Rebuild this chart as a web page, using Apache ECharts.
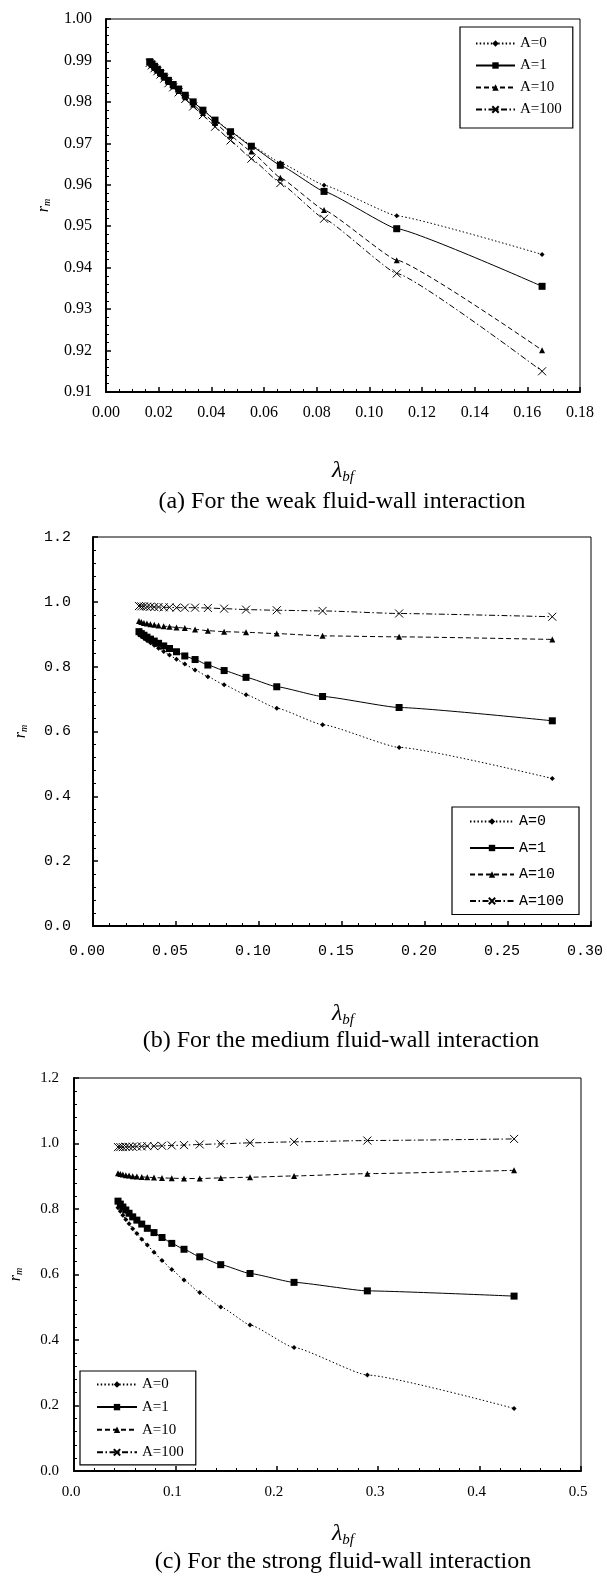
<!DOCTYPE html>
<html><head><meta charset="utf-8">
<script src="https://cdn.jsdelivr.net/npm/echarts@6/dist/echarts.min.js"></script>
<style>html,body{margin:0;padding:0;background:#fff}#c{width:607px;height:1579px}</style>
</head><body><div id="c"></div>
<script>
// ---- data ----
const seriesNames = ['A=0', 'A=1', 'A=10', 'A=100'];
// (a) weak
const xA = [0.0166, 0.0174, 0.0184, 0.0195, 0.0207, 0.0221, 0.0237, 0.0255, 0.0276, 0.0301, 0.0331, 0.0368, 0.0414, 0.0473, 0.0552, 0.0662, 0.0828, 0.1104, 0.1656];
const a0   = [0.9898, 0.9893, 0.9887, 0.9880, 0.9872, 0.9863, 0.9853, 0.9843, 0.9832, 0.9817, 0.9801, 0.9781, 0.9757, 0.9729, 0.9695, 0.9653, 0.9599, 0.9525, 0.9432];
const a1   = [0.9897, 0.9892, 0.9886, 0.9879, 0.9871, 0.9862, 0.9852, 0.9842, 0.9831, 0.9816, 0.9800, 0.9780, 0.9756, 0.9728, 0.9693, 0.9647, 0.9584, 0.9494, 0.9355];
const a10  = [0.9895, 0.9889, 0.9882, 0.9875, 0.9867, 0.9858, 0.9848, 0.9838, 0.9826, 0.9811, 0.9794, 0.9773, 0.9749, 0.9718, 0.9680, 0.9617, 0.9539, 0.9418, 0.9201];
const a100 = [0.9894, 0.9888, 0.9881, 0.9874, 0.9866, 0.9856, 0.9845, 0.9835, 0.9823, 0.9807, 0.9789, 0.9768, 0.9740, 0.9707, 0.9663, 0.9604, 0.9518, 0.9386, 0.9150];
// (b) medium
const xB = [0.0277, 0.0291, 0.0307, 0.0325, 0.0346, 0.0369, 0.0395, 0.0426, 0.0461, 0.0503, 0.0553, 0.0615, 0.0692, 0.0790, 0.0922, 0.1107, 0.1383, 0.1844, 0.2767];
const b0   = [0.899, 0.894, 0.888, 0.881, 0.874, 0.866, 0.857, 0.847, 0.836, 0.823, 0.808, 0.790, 0.769, 0.744, 0.713, 0.672, 0.621, 0.551, 0.455];
const b1   = [0.908, 0.902, 0.897, 0.891, 0.885, 0.879, 0.872, 0.864, 0.856, 0.846, 0.833, 0.822, 0.805, 0.788, 0.767, 0.738, 0.708, 0.674, 0.633];
const b10  = [0.941, 0.938, 0.935, 0.933, 0.931, 0.929, 0.927, 0.925, 0.923, 0.921, 0.919, 0.915, 0.911, 0.908, 0.906, 0.902, 0.895, 0.892, 0.884];
const b100 = [0.987, 0.986, 0.986, 0.985, 0.985, 0.984, 0.984, 0.983, 0.983, 0.982, 0.982, 0.982, 0.981, 0.979, 0.976, 0.974, 0.972, 0.964, 0.954];
// (c) strong
const xC = [0.0434, 0.0457, 0.0482, 0.0511, 0.0543, 0.0579, 0.0620, 0.0668, 0.0723, 0.0789, 0.0868, 0.0964, 0.1085, 0.1240, 0.1447, 0.1736, 0.2170, 0.2893, 0.4340];
const c0   = [0.804, 0.793, 0.781, 0.768, 0.755, 0.740, 0.725, 0.708, 0.690, 0.668, 0.643, 0.615, 0.583, 0.545, 0.501, 0.446, 0.377, 0.293, 0.191];
const c1   = [0.824, 0.815, 0.806, 0.797, 0.787, 0.776, 0.766, 0.754, 0.741, 0.728, 0.713, 0.695, 0.677, 0.654, 0.630, 0.603, 0.576, 0.550, 0.534];
const c10  = [0.909, 0.907, 0.905, 0.903, 0.902, 0.900, 0.899, 0.898, 0.897, 0.896, 0.895, 0.894, 0.893, 0.893, 0.895, 0.897, 0.901, 0.908, 0.918];
const c100 = [0.989, 0.989, 0.989, 0.990, 0.990, 0.990, 0.991, 0.991, 0.992, 0.992, 0.993, 0.994, 0.995, 0.997, 0.999, 1.002, 1.005, 1.009, 1.014];
const captions = ['(a) For the weak fluid-wall interaction', '(b) For the medium fluid-wall interaction', '(c) For the strong fluid-wall interaction'];

// ---- build ----
const SERIF = 'Liberation Serif';
const MONO = 'Liberation Mono';
const crossPath = 'path://M0,0L10,10M0,10L10,0';
const styles = [
  {symbol: 'diamond', size: 5, line: [1.5, 2.2], fill: '#000'},
  {symbol: 'rect', size: 7, line: 'solid', fill: '#000'},
  {symbol: 'triangle', size: 6, line: [5, 3], fill: '#000'},
  {symbol: crossPath, size: 8, line: [6, 2.5, 1.5, 2.5], fill: 'none'}
];
const panels = [
  {x: xA, ys: [a0, a1, a10, a100], font: SERIF, fs: 16, dec: [2, 2], smooth: 0.1, lpad: [0, 0, 0, 0],
   grid: {left: 106, top: 19, width: 474, height: 373},
   xa: {min: 0, max: 0.18, interval: 0.02, minor: 4}, ya: {min: 0.91, max: 1.0, interval: 0.01, minor: 5},
   xMargin: 13, yMargin: 14, yNameGap: 54,
   legend: {left: 460, top: 27, padding: [9, 11, 11, 15], itemGap: 7, itemWidth: 39, fs: 15, font: SERIF},
   lam: {x: 338, y: 467}, cap: {x: 337, y: 498}},
  {x: xB, ys: [b0, b1, b10, b100], font: MONO, fs: 15, dec: [2, 1], smooth: 0.15, lpad: [0, 12, 0, 0],
   grid: {left: 93, top: 537, width: 498, height: 389},
   xa: {min: 0, max: 0.30, interval: 0.05, minor: 5}, ya: {min: 0, max: 1.2, interval: 0.2, minor: 5},
   xMargin: 18, yMargin: 22, yNameGap: 64,
   legend: {left: 452, top: 807, padding: [7, 15, 6, 17], itemGap: 11.5, itemWidth: 44, fs: 15, font: MONO},
   lam: {x: 338, y: 1010}, cap: {x: 336, y: 1037}},
  {x: xC, ys: [c0, c1, c10, c100], font: SERIF, fs: 15, dec: [1, 1], smooth: 0.15, lpad: [0, 6, 0, 0],
   grid: {left: 73, top: 1078, width: 508, height: 393},
   xa: {min: 0, max: 0.5, interval: 0.1, minor: 5}, ya: {min: 0, max: 1.2, interval: 0.2, minor: 5},
   xMargin: 14, yMargin: 15, yNameGap: 50,
   legend: {left: 80, top: 1371, padding: [6, 12, 5, 16], itemGap: 7.6, itemWidth: 40, fs: 15, font: SERIF},
   lam: {x: 338, y: 1530}, cap: {x: 338, y: 1558}}
];

const option = {backgroundColor: '#fff', animation: false, grid: [], xAxis: [], yAxis: [], series: [], legend: [], title: []};
panels.forEach((p, i) => {
  option.grid.push(Object.assign({show: true, borderColor: '#000', borderWidth: 1, backgroundColor: 'transparent'}, p.grid));
  const axisCommon = {
    axisLine: {show: true, onZero: false, lineStyle: {color: '#000', width: 2}},
    axisTick: {show: true, inside: true, length: 5, lineStyle: {color: '#000', width: 1.5}},
    minorTick: {show: true, length: 3, lineStyle: {color: '#000', width: 1}},
    splitLine: {show: false}, minorSplitLine: {show: false}
  };
  option.xAxis.push(Object.assign({}, axisCommon, {
    type: 'value', gridIndex: i, min: p.xa.min, max: p.xa.max, interval: p.xa.interval,
    minorTick: Object.assign({}, axisCommon.minorTick, {splitNumber: p.xa.minor}),
    axisLabel: {margin: p.xMargin, color: '#000', fontFamily: p.font, fontSize: p.fs, padding: p.lpad,
      formatter: v => v.toFixed(p.dec[0])}
  }));
  option.yAxis.push(Object.assign({}, axisCommon, {
    type: 'value', gridIndex: i, min: p.ya.min, max: p.ya.max, interval: p.ya.interval,
    minorTick: Object.assign({}, axisCommon.minorTick, {splitNumber: p.ya.minor}),
    axisLabel: {margin: p.yMargin, color: '#000', fontFamily: p.font, fontSize: p.fs,
      formatter: v => v.toFixed(p.dec[1])},
    name: '{r|r}{m|m}', nameLocation: 'middle', nameRotate: 90, nameGap: p.yNameGap,
    nameTextStyle: {fontWeight: 'normal', rich: {
      r: {fontFamily: SERIF, fontStyle: 'italic', fontWeight: 'normal', fontSize: 16, color: '#000'},
      m: {fontFamily: SERIF, fontStyle: 'italic', fontWeight: 'normal', fontSize: 10, color: '#000', verticalAlign: 'bottom', lineHeight: 10}
    }}
  }));
  const names = [];
  p.ys.forEach((ys, j) => {
    const st = styles[j];
    const nm = seriesNames[j] + ' ';
    names.push(nm);
    option.series.push({
      name: nm, type: 'line', xAxisIndex: i, yAxisIndex: i,
      data: p.x.map((xv, k) => [xv, ys[k]]),
      smooth: p.smooth, smoothMonotone: 'x',
      symbol: st.symbol, symbolSize: st.size, showSymbol: true,
      lineStyle: {color: '#000', width: 1, type: st.line},
      itemStyle: {color: st.fill, borderColor: '#000', borderWidth: st.fill === 'none' ? 1 : 0},
      emphasis: {disabled: true}, z: 3 + j
    });
  });
  const L = p.legend;
  option.legend.push({
    data: names.map(n => ({name: n})),
    orient: 'vertical', left: L.left, top: L.top, padding: L.padding, itemGap: L.itemGap,
    itemWidth: L.itemWidth, itemHeight: 8, borderColor: '#000', borderWidth: 1.2, backgroundColor: '#fff',
    selectedMode: false, formatter: n => n.trim(),
    textStyle: {fontFamily: L.font, fontSize: L.fs, color: '#000'}
  });
  option.title.push({
    text: '{l|λ}{s|bf}', left: p.lam.x, top: p.lam.y - 15, textAlign: 'center',
    textStyle: {fontWeight: 'normal', rich: {
      l: {fontFamily: SERIF, fontStyle: 'italic', fontWeight: 'normal', fontSize: 24, color: '#000', lineHeight: 28},
      s: {fontFamily: SERIF, fontStyle: 'italic', fontWeight: 'normal', fontSize: 15, color: '#000', verticalAlign: 'bottom', lineHeight: 12}
    }}
  });
  option.title.push({
    text: captions[i], left: p.cap.x, top: p.cap.y - 13, textAlign: 'center',
    textStyle: {fontFamily: SERIF, fontSize: 24, fontWeight: 'normal', color: '#000'}
  });
});
const chart = echarts.init(document.getElementById('c'), null, {renderer: 'canvas', width: 607, height: 1579});
chart.setOption(option);
</script></body></html>
